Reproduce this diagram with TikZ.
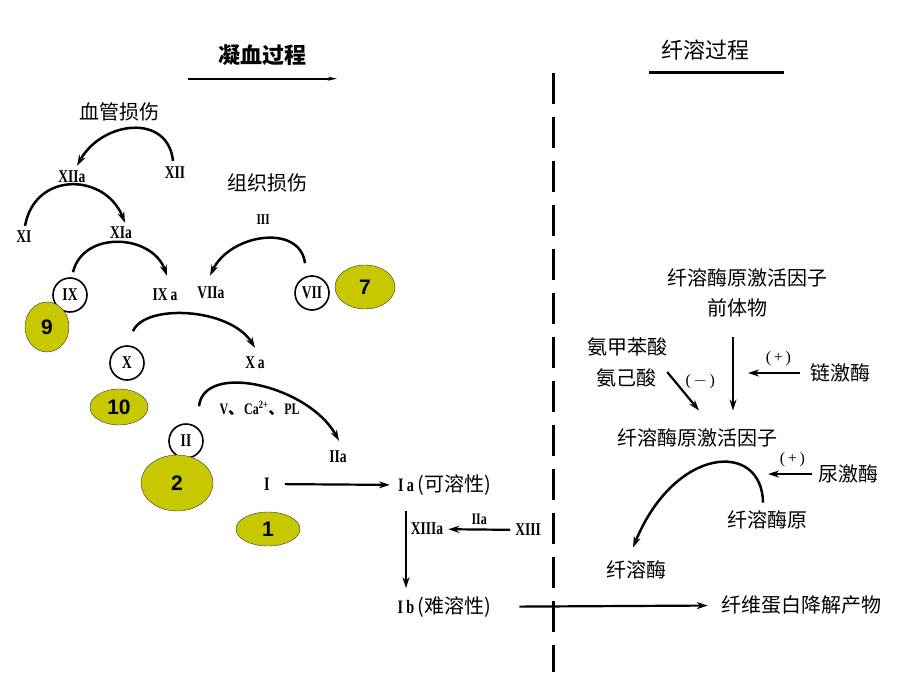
\documentclass[tikz,border=0pt]{standalone}
\usepackage{fontspec}
\setmainfont{Liberation Serif}
\newfontfamily\cjk{Noto Sans CJK SC}
\newfontfamily\numfont{Liberation Sans}
\newfontfamily\romfont[FakeStretch=0.75]{Liberation Serif}
\usepackage{tikz}
\usetikzlibrary{arrows.meta, positioning, shapes.geometric}
\definecolor{tagyellow}{HTML}{C8C800}

\begin{document}
\begin{tikzpicture}[
        x=1pt, y=-1pt,
        >={Stealth[length=11pt, width=7pt]},
        every node/.style={inner sep=1pt},
        cn/.style={font=\cjk\fontsize{20}{24}\selectfont},
        title/.style={font=\cjk\fontsize{22}{26}\selectfont},
        lab/.style={font=\romfont\bfseries\fontsize{18}{20}\selectfont},
        labbig/.style={font=\romfont\bfseries\fontsize{19}{21}\selectfont},
        fac/.style={circle, draw, line width=1.6pt, minimum size=34pt, inner sep=0pt,
                    font=\romfont\bfseries\fontsize{18}{20}\selectfont},
        tag/.style={ellipse, draw=black!80, fill=tagyellow, inner sep=0pt,
                    font=\numfont\bfseries\fontsize{21}{24}\selectfont},
        arc/.style={->, line width=2.5pt},
        edge/.style={->, line width=2.2pt},
        sgn/.style={font=\fontsize{16}{18}\selectfont, inner sep=0pt}
    ]
        \useasboundingbox (0,0) rectangle (920,690);

        % 标题
        \path
            (262,55)  node[title, font=\cjk\bfseries\fontsize{22}{26}\selectfont] (coag) {凝血过程}
            (705,50)  node[title] (fibr) {纤溶过程};
        \draw[line width=2.2pt, -{Stealth[length=9pt, width=4pt]}]
            ([shift={(-74,12)}]coag.south) -- ([shift={(75,12)}]coag.south);
        \draw[line width=2.5pt] ([shift={(-56,11)}]fibr.south) -- ([shift={(79,11)}]fibr.south);

        % 分隔虚线
        \draw[line width=3pt, dash pattern=on 31pt off 13pt] (553,73) -- (553,672);

        % 凝血因子
        \path
            (119,112) node[cn]  (vinj) {血管损伤}
            (175,173) node[lab] (XII)  {XII}
            (72,177)  node[lab] (XIIa) {XIIa}
            (24,237)  node[lab] (XI)   {XI}
            (121,233) node[lab] (XIa)  {XIa}
            (70,295)  node[fac] (IX)   {IX}
            (165,295) node[lab] (IXa)  {IX\,a}
            (267,183) node[cn]  (tinj) {组织损伤}
            (211,293) node[lab] (VIIa) {VIIa}
            (312,293) node[fac] (VII)  {VII}
            (127,363) node[fac] (X)    {X}
            (255,363) node[lab] (Xa)   {X\,a}
            (186,441) node[fac] (II)   {II}
            (338,457) node[lab] (IIa)  {IIa}
            (267,484) node[labbig] (I)  {I}
            (406,485) node[labbig] (Ia) {I\,a}
            (427,529) node[lab] (XIIIa) {XIIIa}
            (528,530) node[lab] (XIII)  {XIII}
            (406,607) node[labbig] (Ib) {I\,b};
        \node[cn, anchor=west, inner sep=0pt, xshift=2pt] (Iasol) at (Ia.east) {(可溶性)};
        \node[cn, anchor=west, inner sep=0pt, xshift=2pt] (Ibsol) at (Ib.east) {(难溶性)};

        % 弧形箭头
        \draw[arc] ([shift={(-2,-5)}]XII.north) .. controls +(-5,-48) and +(25,-45) .. ([shift={(5,-4)}]XIIa.north);
        \draw[arc] ([shift={(1,-4)}]XI.north) .. controls +(10,-55) and +(-20,-50) .. ([shift={(4,-3)}]XIa.north);
        \draw[arc] ([shift={(3,-5)}]IX.north) .. controls +(10,-42) and +(-15,-42) .. ([shift={(2,-12)}]IXa.north);
        \draw[arc] ([shift={(-7,-12)}]VII.north) .. controls +(-5,-40) and +(20,-42) .. ([shift={(-1,-10)}]VIIa.north)
            node[midway, above=12pt, lab, font=\romfont\bfseries\fontsize{15}{17}\selectfont] {III};
        \draw[arc] ([shift={(6,-14)}]X.north) .. controls +(12,-28) and +(-25,-40) .. ([shift={(0,-8)}]Xa.north);
        \draw[arc] ([shift={(13,-17)}]II.north) .. controls +(5,-45) and +(-30,-55) .. ([shift={(1,-9)}]IIa.north)
            node[midway, below=13pt, font=\romfont\bfseries\fontsize{16}{18}\selectfont]
            {V{\cjk 、}Ca\textsuperscript{2+}{\cjk 、}PL};

        % 直线箭头
        \draw[edge, shorten <=14pt, shorten >=7pt] (I) -- (Ia);
        \draw[edge, shorten <=18pt, shorten >=11pt] (Ia.south) -- (Ib.north);
        \draw[edge, shorten <=4pt, shorten >=4pt] (XIII) -- (XIIIa)
            node[midway, above=3pt, lab, font=\romfont\bfseries\fontsize{16}{18}\selectfont] {IIa};

        % 纤溶
        \path
            (747,278) node[cn] (prepa) {纤溶酶原激活因子}
            (737,308) node[cn] (prepb) {前体物}
            (627,347) node[cn] (amba)  {氨甲苯酸}
            (626,378) node[cn] (eaca)  {氨己酸}
            (840,373) node[cn] (sk)    {链激酶}
            (697,438) node[cn] (pa)    {纤溶酶原激活因子}
            (848,474) node[cn] (uk)    {尿激酶}
            (767,520) node[cn] (pg)    {纤溶酶原}
            (636,570) node[cn] (pm)    {纤溶酶}
            (801,605) node[cn] (fdp)   {纤维蛋白降解产物};
        \coordinate (skend) at (748,373);
        \coordinate (ukend) at (768,474);

        \draw[edge, shorten <=19pt, shorten >=17pt] ([xshift=-4pt]prepb.south) -- ([xshift=36pt]pa.north);
        \draw[edge, shorten <=9pt] (sk) -- (skend) node[midway, above=6pt, sgn] {(\,+\,)};
        \draw[edge] ([shift={(10,-6)}]eaca.east) -- ([shift={(2,-17)}]pa.north)
            node[midway, above right=2pt, sgn] {(\,$-$\,)};
        \draw[edge, shorten <=5pt] (uk) -- (ukend) node[midway, above=6pt, sgn] {(\,+\,)};
        \draw[arc] ([shift={(-4,-7)}]pg.north) .. controls +(-1,-62) and +(42,-102) .. ([shift={(-3,-12)}]pm.north);
        \draw[edge, shorten <=28pt, shorten >=12pt] (Ibsol) -- (fdp);

        % 编号
        \path
            (365,287) node[tag, minimum width=60pt, minimum height=44pt] (t7)  {7}
            (47,327)  node[tag, minimum width=44pt, minimum height=50pt] (t9)  {9}
            (119,407) node[tag, minimum width=58pt, minimum height=36pt] (t10) {10}
            (177,483) node[tag, minimum width=72pt, minimum height=56pt] (t2)  {2}
            (268,529) node[tag, minimum width=64pt, minimum height=34pt] (t1)  {1};
    \end{tikzpicture}
\end{document}
